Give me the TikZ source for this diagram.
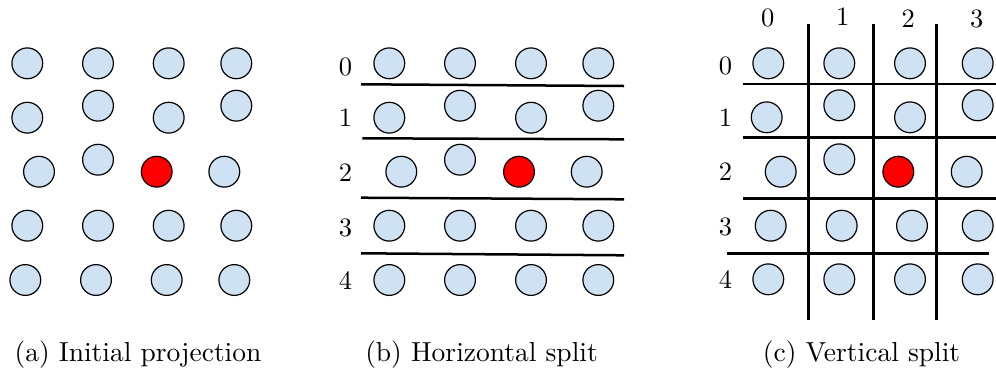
\documentclass[tikz,border=0pt]{standalone}
\usepackage{graphicx}
\definecolor{dotblue}{HTML}{CFE2F3}
\newcommand{\labscaled}[1]{\scalebox{2.65}{#1}}
\newcommand{\capscaled}[1]{\scalebox{2.75}{#1}}
\begin{document}
\begin{tikzpicture}[x=1pt,y=-1pt,
  dot/.style={circle, draw=black, line width=1.2pt, fill=dotblue, minimum size=30.8pt, inner sep=0pt},
  hot/.style={dot, fill=red},
  splitline/.style={line width=2.5pt},
  lab/.style={inner sep=0pt},
  captext/.style={anchor=base, inner sep=0pt}]
\useasboundingbox (0,0) rectangle (996,376);
% ---------- panel (a) ----------
\foreach \x/\y [count=\i] in {27.3/63.3,98/63.3,168.7/63.3,236.3/63.3,
  27.3/117.7,98/105.7,168.7/117.7,236.3/105.7,
  39/171.7,98/159.7,224.3/171.7,
  27.3/225.7,98/225.7,168.7/225.7,236.3/225.7,
  25.3/280,96/280,166.7/280,234.3/280}
  \node[dot] (a\i) at (\x,\y) {};
\node[hot] (ared) at (156.7,171.7) {};
% ---------- panel (b) ----------
\foreach \x/\y [count=\i] in {389.3/63.3,460/63.3,531/63.3,598.3/63.3,
  389.3/117.7,460/105.7,531/117.7,598.3/105.7,
  401.3/171.7,460/159.7,586.7/171.7,
  389.3/225.7,460/225.7,531/225.7,598.3/225.7,
  389.3/280,460/280,531/280,598.3/280}
  \node[dot] (b\i) at (\x,\y) {};
\node[hot] (bred) at (519,171.7) {};
\coordinate (bh1l) at (361,84.3);   \coordinate (bh1r) at (624,86);
\coordinate (bh2l) at (362.3,138.3); \coordinate (bh2r) at (624,139.3);
\coordinate (bh3l) at (361,197.7);  \coordinate (bh3r) at (624,199.3);
\coordinate (bh4l) at (361,253.3);  \coordinate (bh4r) at (624,255.3);
\foreach \k in {1,...,4} \draw[splitline] (bh\k l) -- (bh\k r);
\foreach \t/\y in {0/67.3,1/117.5,2/172.5,3/227.5,4/281}
  \node[lab] (brow\t) at (345.5,\y) {\labscaled{\t}};
% ---------- panel (c) ----------
\foreach \x/\y [count=\i] in {768.3/63.3,839.3/63.3,910/63.3,977.7/63.3,
  766.7/117.3,839.3/105.3,910/117.3,977.7/105.3,
  780.7/171.7,839.3/159.3,966.7/171.7,
  770.7/225.7,841.7/225.7,912/225.7,977.7/225.7,
  768.3/279.3,839.3/279.3,910/279.3,977.7/279.3}
  \node[dot] (c\i) at (\x,\y) {};
\node[hot] (cred) at (898.3,171.7) {};
\coordinate (ch1l) at (742.7,84);    \coordinate (ch1r) at (996,84);
\coordinate (ch2l) at (742.7,137.7); \coordinate (ch2r) at (996,137.7);
\coordinate (ch3l) at (742.7,198.3); \coordinate (ch3r) at (996,198.3);
\coordinate (ch4l) at (726.7,253.3); \coordinate (ch4r) at (989.3,253.3);
\foreach \k in {1,...,4} \draw[splitline] (ch\k l) -- (ch\k r);
\foreach \x [count=\k] in {808.3,873.3,936.7}{
  \coordinate (cv\k t) at (\x,24);
  \coordinate (cv\k b) at (\x,320);
  \draw[splitline] (cv\k t) -- (cv\k b);}
\foreach \t/\y in {0/65.5,1/117.3,2/171.7,3/226.7,4/280}
  \node[lab] (crow\t) at (725.5,\y) {\labscaled{\t}};
\foreach \t/\x/\y in {0/767.7/18,1/842.7/17,2/908.3/19,3/976.7/19}
  \node[lab] (ccol\t) at (\x,\y) {\labscaled{\t}};
% ---------- captions ----------
\node[captext] (capa) at (138,361.7) {\capscaled{(a) Initial projection}};
\node[captext] (capb) at (481.5,361.7) {\capscaled{(b) Horizontal split}};
\node[captext] (capc) at (861.5,361.7) {\capscaled{(c) Vertical split}};
\end{tikzpicture}
\end{document}
